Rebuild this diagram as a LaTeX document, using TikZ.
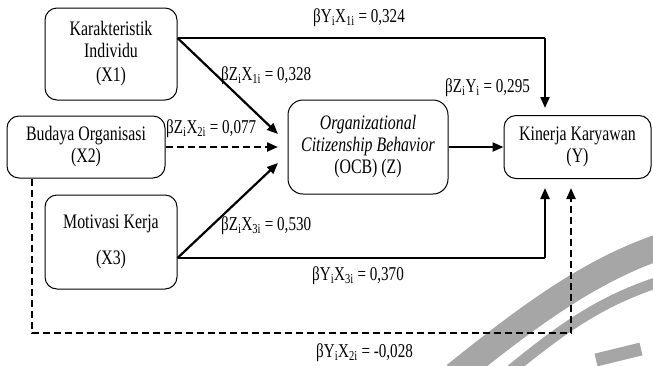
\documentclass[tikz,border=0pt]{standalone}
\usepackage{fontspec}
\setmainfont{Liberation Serif}[FakeStretch=0.77]
\usetikzlibrary{arrows.meta}
\newcommand{\sbs}[1]{\textsubscript{#1}}
\begin{document}
\begin{tikzpicture}[x=1pt,y=-1pt,
  every node/.style={font=\fontsize{20.6}{22}\selectfont},
  box/.style={draw, rounded corners=12pt, line width=1pt, align=center, inner sep=0pt},
  thinln/.style={line width=1.2pt},
  thk/.style={line width=2.2pt},
  arr/.style={-{Triangle[length=11pt,width=9pt]}},
  dsh/.style={dash pattern=on 7pt off 4pt},
  lbl/.style={anchor=west, inner sep=0pt, font=\fontsize{19.6}{22}\selectfont},
  wm/.style={draw=black!35, line cap=butt}]
\useasboundingbox (0,0) rectangle (653,365);
% watermark arcs
\begin{scope}
\clip (0,0) rectangle (653,365);
\draw[wm, line width=26pt] (455,375) .. controls (530,315) and (590,270) .. (665,245);
\draw[wm, line width=11pt] (505,375) .. controls (560,330) and (600,300) .. (665,280);
\draw[wm, line width=13pt] (596,360) -- (641,349);
\end{scope}
% boxes
\node[box, minimum width=132pt, minimum height=92pt] (x1) at (111,54)
  {Karakteristik\\Individu\\[2pt](X1)};
\node[box, minimum width=158pt, minimum height=62pt] (x2) at (86,147)
  {Budaya Organisasi\\(X2)};
\node[box, minimum width=132pt, minimum height=94pt] (x3) at (111,242)
  {Motivasi Kerja\\[14pt](X3)};
\node[box, minimum width=160pt, minimum height=94pt, rounded corners=15pt] (z) at (368,147)
  {\textit{Organizational}\\\textit{Citizenship Behavior}\\(OCB) (Z)};
\node[box, minimum width=147pt, minimum height=63pt] (y) at (577.5,147)
  {Kinerja Karyawan\\(Y)};
% coordinates
\coordinate (c1) at (545,38);
\coordinate (t1) at (545,108);
\coordinate (tA) at (278,134);
\coordinate (tB) at (278,147);
\coordinate (tC) at (278,163);
\coordinate (c3) at (545,258);
\coordinate (t3) at (545,188);
\coordinate (d1) at (32,333);
\coordinate (d2) at (571,333);
\coordinate (t2) at (571,188);
% connectors
\draw[thinln] ([yshift=16pt]x1.east) -- (c1);
\draw[thk, arr] (c1) -- (t1);
\draw[thk, arr] ([yshift=16pt]x1.east) -- (tA);
\draw[thk, arr, dsh] (x2.east) -- (tB);
\draw[thk, arr] ([yshift=-16pt]x3.east) -- (tC);
\draw[thinln] ([yshift=-16pt]x3.east) -- (c3);
\draw[thk, arr] (c3) -- (t3);
\draw[thk, arr, dsh] ([xshift=-54pt]x2.south) -- (d1) -- (d2) -- (t2);
\draw[thk, arr] (z.east) -- (y.west);
% labels
\node[lbl] (l1) at (313,18) {βY\sbs{i}X\sbs{1i} = 0,324};
\node[lbl] (l2) at (221,76) {βZ\sbs{i}X\sbs{1i} = 0,328};
\node[lbl] (l3) at (166,129) {βZ\sbs{i}X\sbs{2i} = 0,077};
\node[lbl] (l4) at (445,88) {βZ\sbs{i}Y\sbs{i} = 0,295};
\node[lbl] (l5) at (221,226) {βZ\sbs{i}X\sbs{3i} = 0,530};
\node[lbl] (l6) at (312,276) {βY\sbs{i}X\sbs{3i} = 0,370};
\node[lbl] (l7) at (316,353) {βY\sbs{i}X\sbs{2i} = -0,028};
\end{tikzpicture}
\end{document}
